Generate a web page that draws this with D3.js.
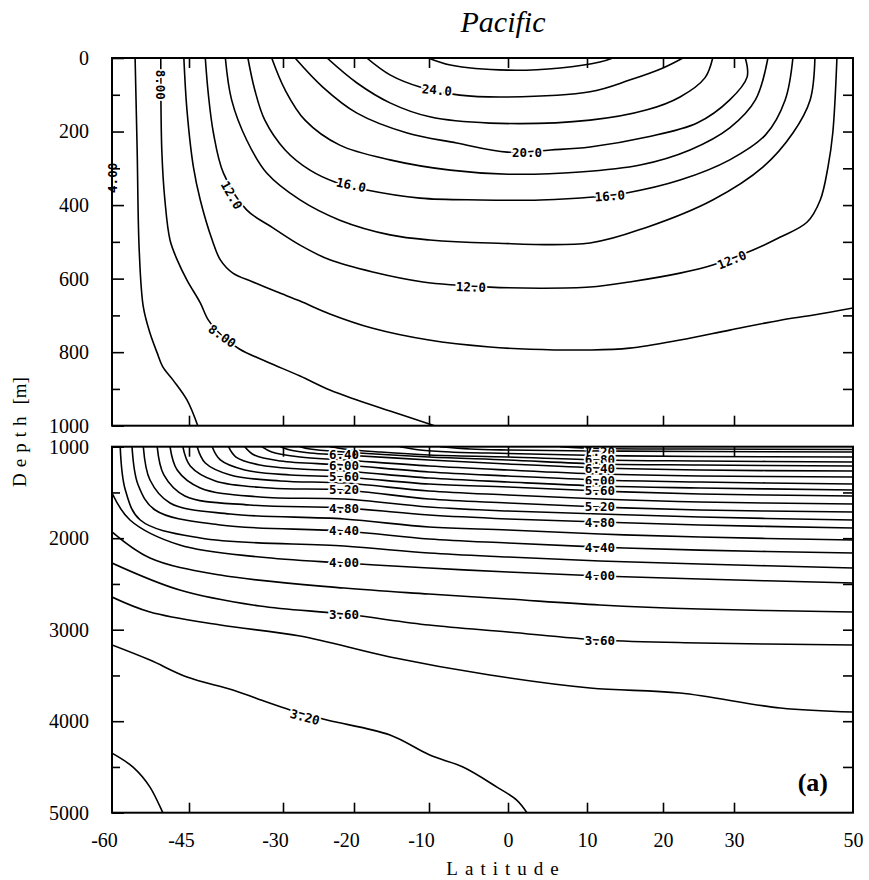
<!DOCTYPE html>
<html><head><meta charset="utf-8">
<script src="https://cdn.jsdelivr.net/npm/d3@7"></script>
<style>body{margin:0;background:#fff}</style>
</head><body>
<svg id="c" width="869" height="880"></svg>
<script>
// ---------- data ----------
const latTicks = [-60,-45,-30,-20,-10,0,10,20,30,50];
const latTickLabels = ["-60","-45","-30","-20","-10","0","10","20","30","50"];
const upperMajor = [0,200,400,600,800,1000];
const upperMinor = [100,300,500,700,900];
const lowerMajor = [1000,2000,3000,4000,5000];
const lowerMinor = [1500,2500,3500,4500];

// upper panel isotherms [lat, depth]
const up04 = [[-60,0],[-60,1000]];
const up06 = [[-55.5,0],[-55.1,250],[-54.7,522],[-53.9,677],[-52.6,748],[-51.2,802],[-50.1,840],[-48.1,876],[-45.4,930],[-43.6,1000]];
const up08 = [[-50.5,0],[-50.3,250],[-49.7,386],[-48.7,495],[-47.3,549],[-45.4,604],[-43.2,666],[-41.9,713],[-39.7,756],[-36.9,792],[-32.6,826],[-27.6,865],[-23.4,903],[-19.6,930],[-15.2,960],[-9.3,1000]];
const up10 = [[-46,0],[-45.4,141],[-44.3,296],[-43.2,386],[-41.3,495],[-40,549],[-38,585],[-34.8,609],[-31,636],[-27.6,661],[-23.4,696],[-17.5,735],[-10,767],[-2.3,786],[2.8,792],[10.4,794],[15.6,789],[22.4,767],[29.4,740],[37.8,713],[43.4,699],[50,680]];
const up12 = [[-42.4,0],[-41.9,101],[-41.1,204],[-39.5,313],[-35.8,413],[-31.6,462],[-27.6,509],[-23.4,549],[-17.5,582],[-10.8,609],[-2.3,623],[4.1,626],[10.4,623],[15.6,609],[22.4,585],[27.0,563],[33.2,522],[37.8,487],[42.3,446],[44.5,386],[45.8,296],[46.6,204],[47.3,0]];
const up14 = [[-39.2,0],[-38.2,114],[-35.8,223],[-32.6,313],[-27.6,386],[-22,441],[-15.2,481],[-9.9,495],[-2.3,503],[10.4,503],[17.9,460],[27.0,386],[34.9,296],[39.9,204],[42.8,114],[43.6,0]];
const up16 = [[-35.6,0],[-34.5,87],[-32.9,169],[-29.7,250],[-26.2,305],[-22.7,337],[-18.3,359],[-11.2,381],[-3.5,386],[4.1,386],[10.8,378],[15.2,367],[22.4,332],[29.4,277],[35.3,209],[38.6,114],[39.9,0]];
const up18 = [[-31.8,0],[-29.7,87],[-26.9,169],[-22,237],[-15.2,277],[-7.3,305],[0,316],[9.1,310],[17,291],[23.8,250],[29.4,190],[33.6,114],[35.7,0]];
const up20 = [[-28.3,0],[-24.4,79],[-19.6,150],[-12.9,204],[-6.5,231],[-0.1,256],[5.4,250],[10.4,242],[17.9,215],[24.8,177],[29.4,114],[32.2,52],[31.9,0]];
const up22 = [[-23.8,0],[-19.6,68],[-15.2,122],[-9.9,160],[-2.3,177],[10.4,169],[17.9,141],[22.4,106],[25.9,54],[27,0]];
const up24 = [[-18.3,0],[-15.2,46],[-11.2,79],[-6.1,101],[0,106],[10.4,92],[15.6,60],[20,27],[22.8,0]];
const up26 = [[-10.1,0],[-7.3,19],[0,33],[6.6,27],[11.7,11],[13.4,0]];
const upperLines = [up04,up06,up08,up10,up12,up14,up16,up18,up20,up22,up24,up26];

const upLabelText  = ["8.00","4.00","12.0","16.0","20.0","24.0","12.0","12.0","16.0","8.00"];
const upLabelLat   = [-50.5,-60,-38.2,-20.4,2.4,-9,-4.7,29.7,13.0,-39.7];
const upLabelDepth = [73,326,373,345,258,87,623,549,375,756];
const upLabelAngle = [90,-90,60,12,0,5,2,-22,-4,35];

// lower panel isotherms [lat, depth]
const lo74 = [[6.6,1000],[11.7,1020],[25.2,1025],[50,1031]];
const lo72 = [[-8.6,1000],[-4.8,1025],[0,1036],[11.7,1047],[25.2,1052],[50,1058]];
const lo70 = [[-13.9,1000],[-11.2,1036],[-7.3,1058],[0,1074],[11.7,1096],[25.2,1107],[50,1113]];
const lo68 = [[-23.4,1000],[-21.4,1025],[-16.5,1058],[-10,1091],[0,1113],[11.7,1145],[25.2,1156],[50,1167]];
const lo66 = [[-27.6,1000],[-26.2,1025],[-21.4,1058],[-10,1113],[0,1145],[11.7,1189],[25.2,1200],[50,1211]];
const lo64 = [[-30.4,1000],[-29.0,1036],[-26.2,1069],[-21.4,1091],[-10,1145],[0,1189],[11.7,1233],[25.2,1255],[50,1266]];
const lo62 = [[-33.4,1000],[-31.8,1058],[-27.6,1113],[-21.4,1145],[-10,1211],[0,1255],[11.7,1298],[25.2,1320],[50,1331]];
const lo60 = [[-36.1,1000],[-34.6,1091],[-30.4,1156],[-21.4,1200],[-10,1276],[0,1320],[11.7,1364],[25.2,1386],[50,1408]];
const lo58 = [[-38.7,1000],[-37.5,1113],[-33.7,1200],[-27.6,1244],[-21.4,1266],[-10,1342],[0,1386],[11.7,1430],[25.2,1451],[50,1473]];
const lo56 = [[-41.3,1000],[-40,1145],[-36.1,1255],[-29.0,1309],[-21.4,1331],[-10,1408],[0,1440],[11.7,1484],[25.2,1517],[50,1539]];
const lo54 = [[-43.7,1000],[-42.4,1178],[-38.4,1309],[-30.4,1375],[-21.4,1397],[-10,1484],[0,1528],[11.7,1572],[25.2,1605],[50,1626]];
const lo52 = [[-46.2,1000],[-44.8,1211],[-40.8,1375],[-32.1,1451],[-21.4,1473],[-10,1572],[0,1615],[11.7,1659],[25.2,1692],[50,1714]];
const lo50 = [[-48.7,1000],[-47.3,1255],[-43.2,1451],[-33.7,1550],[-21.4,1572],[-10,1659],[0,1703],[11.7,1736],[25.2,1769],[50,1801]];
const lo48 = [[-51.2,1000],[-49.9,1309],[-45.8,1539],[-35.3,1637],[-21.4,1670],[-10,1747],[0,1790],[11.7,1823],[25.2,1856],[50,1888]];
const lo46 = [[-53.9,1000],[-52.6,1364],[-48.7,1615],[-38.4,1736],[-21.4,1790],[-10,1878],[0,1910],[11.7,1954],[25.2,1987],[50,2020]];
const lo44 = [[-56.1,1000],[-54.9,1419],[-51.6,1692],[-40,1856],[-21.4,1921],[-10,2009],[0,2053],[11.7,2097],[25.2,2130],[50,2162]];
const lo42 = [[-58.4,1000],[-57.4,1473],[-54.5,1801],[-43.2,1998],[-21.4,2085],[-10,2162],[0,2206],[11.7,2249],[25.2,2282],[50,2326]];
const lo40 = [[-60,1506],[-56.5,1801],[-46.8,2075],[-33.7,2206],[-21.4,2271],[-10,2326],[0,2370],[11.7,2413],[25.2,2446],[50,2490]];
const lo38 = [[-60,1932],[-52.6,2217],[-40,2403],[-21.4,2545],[-10,2610],[0,2665],[11.7,2730],[25.2,2774],[50,2807]];
const lo36 = [[-60,2271],[-46.8,2566],[-33.7,2741],[-21.4,2829],[-10,2949],[0,3025],[11.7,3113],[25.2,3145],[50,3167]];
const lo34 = [[-60,2643],[-52.6,2807],[-40,2949],[-27.6,3069],[-15.2,3298],[-2.3,3495],[10.4,3637],[22.4,3692],[37.8,3856],[50,3900]];
const lo32 = [[-60,3167],[-52.6,3332],[-45.4,3517],[-38.0,3659],[-32.6,3790],[-29.0,3877],[-23.8,3987],[-15.2,4151],[-9.9,4370],[-5.7,4501],[-1.4,4720],[1.1,4862],[2.4,5000]];
const lo30 = [[-60,4349],[-55.9,4502],[-52.6,4720],[-50.1,5000]];
const lowerLines = [lo74,lo72,lo70,lo68,lo66,lo64,lo62,lo60,lo58,lo56,lo54,lo52,lo50,lo48,lo46,lo44,lo42,lo40,lo38,lo36,lo34,lo32,lo30];

const loLabelText  = ["6.40","6.00","5.60","5.20","4.80","4.40","4.00","3.60",
                      "7.20","6.80","6.40","6.00","5.60","5.20","4.80","4.40","4.00","3.60","3.20"];
const loLabelLat   = [-21.4,-21.4,-21.4,-21.4,-21.4,-21.4,-21.4,-21.4,
                      11.7,11.7,11.7,11.7,11.7,11.7,11.7,11.7,11.7,11.7,-26.9];
const loLabelDepth = [1090,1200,1331,1473,1670,1921,2271,2829,
                      1047,1145,1233,1364,1484,1659,1823,2097,2413,3113,3954];
const loLabelAngle = [0,0,0,0,0,0,0,0, 0,0,0,0,0,0,0,0,0,0,15];

// ---------- drawing ----------
const svg = d3.select("#c");
const xRange = [112,189,283,354,429,508,587,663,734,853];
const x = d3.scaleLinear().domain(latTicks).range(xRange);
const yU = d3.scaleLinear().domain([0,1000]).range([58,425.7]);
const yL = d3.scaleLinear().domain([1000,5000]).range([446.7,812.7]);
const L = 112, R = 853;

const defs = svg.append("defs");
defs.append("clipPath").attr("id","cu").append("rect").attr("x",L).attr("y",yU(0)).attr("width",R-L).attr("height",yU(1000)-yU(0));
defs.append("clipPath").attr("id","cl").append("rect").attr("x",L).attr("y",yL(1000)).attr("width",R-L).attr("height",yL(5000)-yL(1000));

function drawPanel(lines, y, clip){
  const g = svg.append("g").attr("clip-path",`url(#${clip})`);
  const line = d3.line().x(d=>x(d[0])).y(d=>y(d[1])).curve(d3.curveCatmullRom.alpha(0.5));
  g.selectAll("path").data(lines).join("path")
    .attr("d",line).attr("fill","none").attr("stroke","#000").attr("stroke-width",1.6);
  return g;
}
drawPanel(upperLines, yU, "cu");
drawPanel(lowerLines, yL, "cl");

function drawLabels(g, texts, lats, depths, angles, y){
  g.selectAll("text.lab").data(texts).join("text").attr("class","lab")
    .attr("transform",(d,i)=>`translate(${x(lats[i])},${y(depths[i])}) rotate(${angles[i]})`)
    .attr("text-anchor","middle").attr("dy","0.36em")
    .style("font-family","'DejaVu Sans Mono', monospace").style("font-weight","bold")
    .style("font-size","12.5px")
    .attr("fill","#000").attr("stroke","#fff").attr("stroke-width",3.5)
    .style("paint-order","stroke")
    .text(d=>d);
}
drawLabels(svg.append("g"), upLabelText, upLabelLat, upLabelDepth, upLabelAngle, yU);
drawLabels(svg.append("g"), loLabelText, loLabelLat, loLabelDepth, loLabelAngle, yL);

// frames
[[yU(0),yU(1000)],[yL(1000),yL(5000)]].forEach(([t,b])=>{
  svg.append("rect").attr("x",L).attr("y",t).attr("width",R-L).attr("height",b-t)
    .attr("fill","none").attr("stroke","#000").attr("stroke-width",2);
});

const tickFont = "'Liberation Serif', 'Times New Roman', 'DejaVu Serif', serif";
function styleAxis(g){
  g.attr("font-family",null).attr("font-size",null);
  g.select(".domain").remove();
  g.selectAll("line").attr("stroke","#000").attr("stroke-width",1.6);
  g.selectAll("text").style("font-family",tickFont).style("font-size","20px").attr("fill","#000");
}
function yAxes(y, major, minor, rightTicks){
  svg.append("g").attr("transform",`translate(${L},0)`)
    .call(d3.axisLeft(y).tickValues(major).tickSize(-12).tickPadding(23).tickFormat(d3.format("d"))).call(styleAxis);
  svg.append("g").attr("transform",`translate(${L},0)`)
    .call(d3.axisLeft(y).tickValues(minor).tickSize(-8).tickFormat("")).call(styleAxis);
  svg.append("g").attr("transform",`translate(${R},0)`)
    .call(d3.axisRight(y).tickValues(rightTicks).tickSize(-10).tickFormat("")).call(styleAxis);
}
yAxes(yU, upperMajor, upperMinor, d3.range(100,1000,100));
yAxes(yL, lowerMajor, lowerMinor, d3.range(1500,5000,500));

const innerLat = latTicks.slice(1,-1);
[[yU(0),"top"],[yU(1000),"bottom"],[yL(1000),"top"],[yL(5000),"bottom"]].forEach(([yy,side])=>{
  const ax = side==="top" ? d3.axisTop(x) : d3.axisBottom(x);
  svg.append("g").attr("transform",`translate(0,${yy})`)
    .call(ax.tickValues(innerLat).tickSize(-10).tickFormat("")).call(styleAxis);
});
const xl = svg.append("g").attr("transform",`translate(0,${yL(5000)})`)
  .call(d3.axisBottom(x).tickValues(latTicks).tickSize(0).tickPadding(20).tickFormat((d,i)=>latTickLabels[i])).call(styleAxis);
xl.selectAll("text").attr("dx",d=>d<0?-8:0);

// titles
svg.append("text").attr("x",503).attr("y",32).attr("text-anchor","middle")
  .style("font-family",tickFont).style("font-style","italic").style("font-size","30px").text("Pacific");
svg.append("text").attr("x",828).attr("y",791).attr("text-anchor","end")
  .style("font-family",tickFont).style("font-weight","bold").style("font-size","26px").text("(a)");
const yt = svg.append("text").attr("transform","translate(26,432) rotate(-90)").attr("text-anchor","middle")
  .style("font-family",tickFont).style("font-size","19px");
yt.append("tspan").style("letter-spacing","6px").text("Depth");
yt.append("tspan").attr("dx",6).text("[m]");
svg.append("text").attr("x",506).attr("y",875).attr("text-anchor","middle")
  .style("font-family",tickFont).style("font-size","19px").style("letter-spacing","7px").text("Latitude");
</script>
</body></html>
